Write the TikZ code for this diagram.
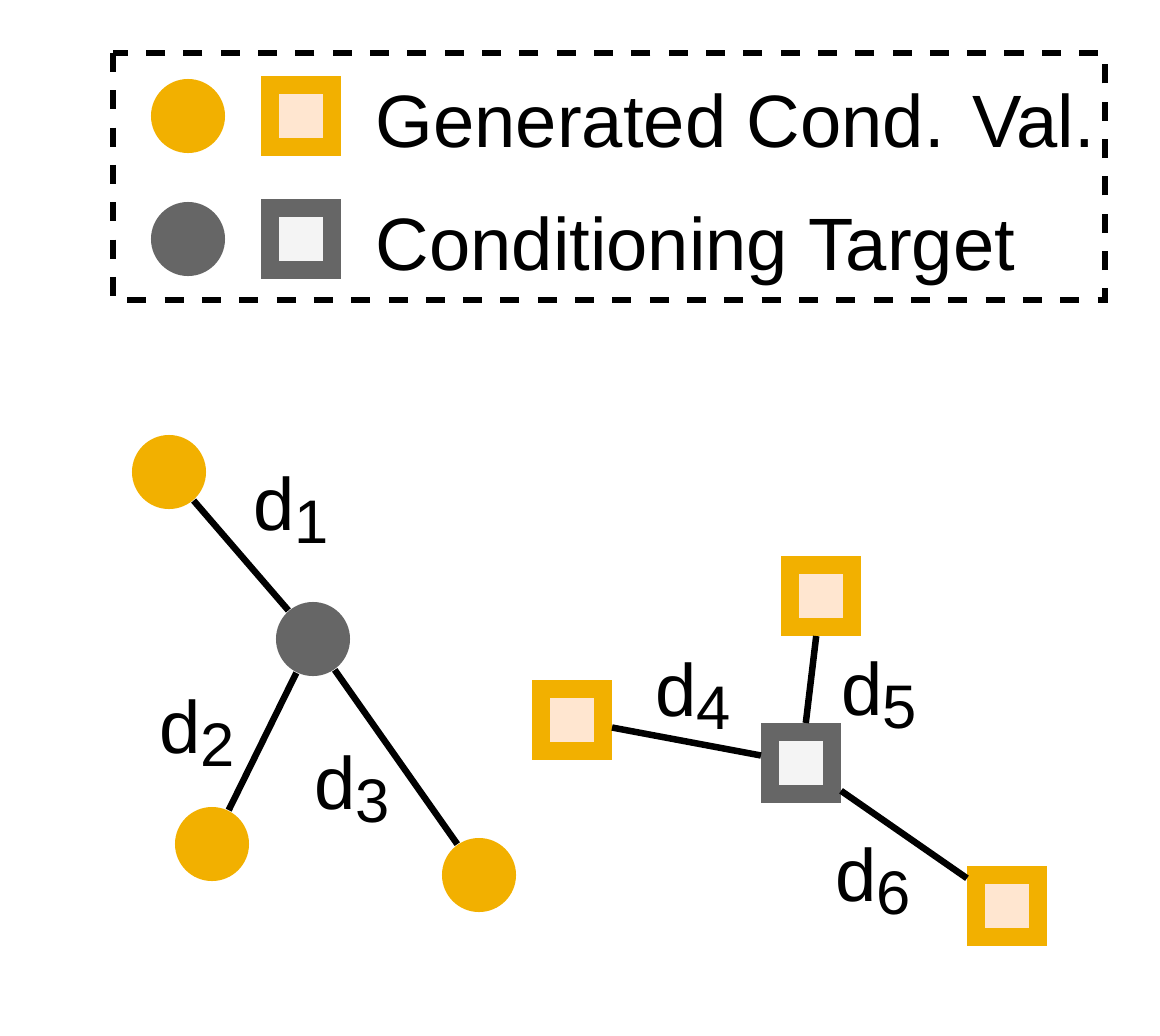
\documentclass[tikz,border=0pt]{standalone}
\usepackage{fontspec}
\setmainfont{Liberation Sans}
\definecolor{genc}{RGB}{242,176,0}
\definecolor{genf}{RGB}{255,230,208}
\definecolor{tgtc}{RGB}{102,102,102}
\definecolor{tgtf}{RGB}{244,244,244}
\newcommand{\dlab}[1]{d\raisebox{-0.135cm}{\fontsize{17.5}{20}\selectfont #1}}
\tikzset{gencirc/.style={circle,fill=genc,minimum size=0.74cm,inner sep=0pt},
 tgtcirc/.style={circle,fill=tgtc,minimum size=0.74cm,inner sep=0pt},
 gensq/.style={rectangle,draw=genc,fill=genf,line width=0.18cm,minimum size=0.62cm,inner sep=0pt},
 tgtsq/.style={rectangle,draw=tgtc,fill=tgtf,line width=0.18cm,minimum size=0.62cm,inner sep=0pt},
 lab/.style={anchor=base west,inner sep=0pt,font=\fontsize{21.1}{25}\selectfont}}
\begin{document}
\begin{tikzpicture}[x=0.01cm,y=-0.01cm]
 \useasboundingbox (0,0) rectangle (1160,1036);
 % legend
 \draw[line width=0.06cm,dash pattern=on 0.19cm off 0.183cm] (113,53) rectangle (1105,300);
 \node[gencirc] (lc1) at (188,116) {}; \node[gensq] (ls1) at (301,116) {};
 \node[tgtcirc] (lc2) at (188,239) {}; \node[tgtsq] (ls2) at (301,239) {};
 \node[lab] (lt1) at (375,147) {Generated Cond. Val.};
 \node[lab] (lt2) at (375,270) {Conditioning Target};
 % circles
 \node[tgtcirc] (c0) at (313,639) {};
 \node[gencirc] (c1) at (169,472) {}; \node[gencirc] (c2) at (212,844) {}; \node[gencirc] (c3) at (479,875) {};
 % squares
 \node[tgtsq] (s0) at (801,763) {};
 \node[gensq] (s1) at (572,720) {}; \node[gensq] (s2) at (821,596) {}; \node[gensq] (s3) at (1007,906) {};
 \foreach \i in {1,2,3}{\draw[line width=0.065cm] (c0) -- (c\i); \draw[line width=0.065cm] (s0) -- (s\i);}
 \node[lab] (d1) at (253,530) {\dlab{1}}; \node[lab] (d2) at (159,753) {\dlab{2}}; \node[lab] (d3) at (314,809) {\dlab{3}};
 \node[lab] (d4) at (655,716) {\dlab{4}}; \node[lab] (d5) at (841,715) {\dlab{5}}; \node[lab] (d6) at (835,901) {\dlab{6}};
\end{tikzpicture}
\end{document}
